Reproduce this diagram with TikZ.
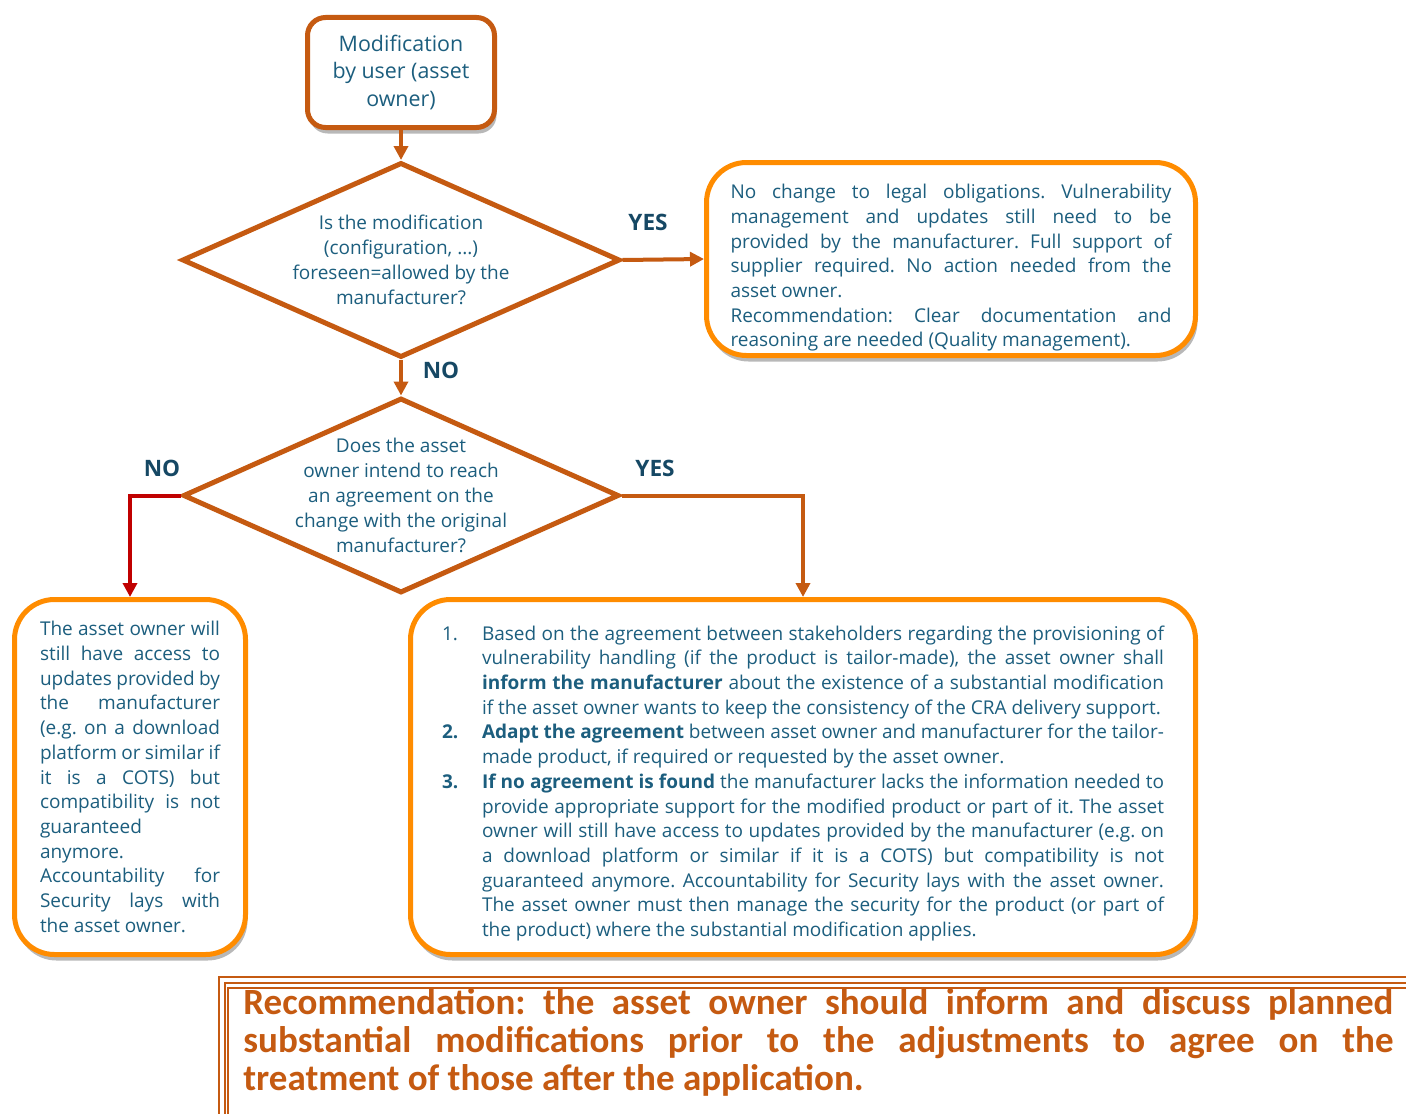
\documentclass[tikz,border=0pt]{standalone}
\usepackage{fontspec}
\setmainfont{Open Sans}
\newfontfamily\recfont{Carlito}
\usetikzlibrary{arrows.meta,shapes.geometric,shadows}
\definecolor{brn}{RGB}{197,90,17}
\definecolor{org}{RGB}{255,140,0}
\definecolor{redc}{RGB}{192,0,0}
\definecolor{txt}{RGB}{28,94,126}
\definecolor{lbl}{RGB}{22,72,100}
\tolerance=10000 \pretolerance=10000 \hbadness=10000 \hfuzz=50pt
\hyphenpenalty=10000 \exhyphenpenalty=10000
\frenchspacing
\newcommand{\bodysize}{\fontsize{9.5}{12.35}\selectfont}
\newcommand{\itemrow}[2]{\lineskip=0pt\noindent\makebox[20pt][l]{#1}\parbox[t]{341pt}{\bodysize\strut #2\strut}\par}
\tikzset{
  bodyfont/.style={font=\bodysize},
  shad/.style={drop shadow={shadow xshift=1pt, shadow yshift=-3pt, opacity=0.28, fill=black}},
  topbox/.style={draw=brn, line width=2.5pt, rounded corners=9pt, fill=white, shad,
    minimum width=93.5pt, minimum height=55pt, align=center, text=txt,
    font=\fontsize{10.7}{13.75}\selectfont},
  decision/.style={diamond, draw=brn, line width=2.5pt, fill=white, inner sep=0pt},
  dtext/.style={text=txt, align=center, font=\fontsize{9.5}{12.5}\selectfont},
  outbox/.style={draw=org, line width=2.5pt, rounded corners=20pt, fill=white, shad,
    text=txt, align=justify, bodyfont, inner xsep=0pt, inner ysep=0pt},
  conn/.style={draw=brn, line width=2pt, -{Triangle[length=7pt,width=7pt]}},
  redconn/.style={draw=redc, line width=2pt, -{Triangle[length=7pt,width=7pt]}},
  yn/.style={text=lbl, font=\fontsize{11.3}{13}\selectfont\bfseries},
  rectext/.style={text=brn, align=justify, inner sep=0pt,
    font=\recfont\bfseries\fontsize{18.5}{19}\selectfont},
  recframe/.style={draw=brn, line width=1pt, double=white, double distance=2pt},
}
\begin{document}
\begin{tikzpicture}[x=0.5pt,y=-0.5pt]
\path[use as bounding box, fill=white] (0,0) rectangle (1406,1113);

% start box
\node[topbox] (start) at (401,72.5) {Modification\\by user (asset\\owner)};

% decision 1
\node[decision, minimum width=219pt, minimum height=97.5pt,
  label={[dtext]center:{Is the modification\\(configuration, ...)\\foreseen=allowed by the\\manufacturer?}}] (d1) at (401,260) {};

% right result box
\node[outbox, text width=220.5pt, minimum width=244.5pt, minimum height=96.5pt] (rbox) at (951,259)
{\noindent\rule{0pt}{16pt}No change to legal obligations. Vulnerability\linebreak
management and updates still need to be\linebreak
provided by the manufacturer. Full support of\linebreak
supplier required. No action needed from the\linebreak
asset owner.\par
Recommendation: Clear documentation and\linebreak
reasoning are needed (Quality management).};

% decision 2
\node[decision, minimum width=218pt, minimum height=97.5pt,
  label={[dtext]center:{Does the asset\\owner intend to reach\\an agreement on the\\change with the original\\manufacturer?}}] (d2) at (401,495.5) {};

% left result box
\node[outbox, text width=90pt, minimum width=115.5pt, minimum height=177.5pt] (lbox) at (130,777)
{The asset owner will\linebreak
still have access to\linebreak
updates provided by\linebreak
the manufacturer\linebreak
(e.g. on a download\linebreak
platform or similar if\linebreak
it is a COTS) but\linebreak
compatibility is not\linebreak
guaranteed\newline
anymore.\par
Accountability for\linebreak
Security lays with\linebreak
the asset owner.};

% bottom big box
\node[outbox, text width=361pt, minimum width=392.5pt, minimum height=177.5pt] (bbox) at (803,777)
{\noindent\rule{0pt}{15pt}%
\itemrow{1.}{Based on the agreement between stakeholders regarding the provisioning of\linebreak
vulnerability handling (if the product is tailor-made), the asset owner shall\linebreak
\textbf{inform the manufacturer} about the existence of a substantial modification\linebreak
if the asset owner wants to keep the consistency of the CRA delivery support.}%
\itemrow{\textbf{2.}}{\textbf{Adapt the agreement} between asset owner and manufacturer for the tailor-\linebreak
made product, if required or requested by the asset owner.}%
\itemrow{\textbf{3.}}{\textbf{If no agreement is found} the manufacturer lacks the information needed to\linebreak
provide appropriate support for the modified product or part of it. The asset\linebreak
owner will still have access to updates provided by the manufacturer (e.g. on\linebreak
a download platform or similar if it is a COTS) but compatibility is not\linebreak
guaranteed anymore. Accountability for Security lays with the asset owner.\linebreak
The asset owner must then manage the security for the product (or part of\linebreak
the product) where the substantial modification applies.}};

% connectors
\draw[conn] (start.south) -- (d1.north);
\draw[conn] (d1.east) -- (rbox.west);
\draw[conn] (d1.south) -- (d2.north);
\draw[redconn] (d2.west) -| (lbox.north);
\draw[conn] (d2.east) -| (bbox.north);

% branch labels
\node[yn] (y1) at (648,222) {YES};
\node[yn] (n1) at (441,370) {NO};
\node[yn] (n2) at (162,468) {NO};
\node[yn] (y2) at (655,468) {YES};

% recommendation
\draw[recframe] (222,980) rectangle (1440,1140);
\draw[brn, line width=0.8pt] (228,988) rectangle (1440,1140);
\node[rectext, text width=575pt, anchor=north west] (rec) at (243,988)
{Recommendation: the asset owner should inform and discuss planned\linebreak
substantial modifications prior to the adjustments to agree on the\linebreak
treatment of those after the application.};
\end{tikzpicture}
\end{document}
